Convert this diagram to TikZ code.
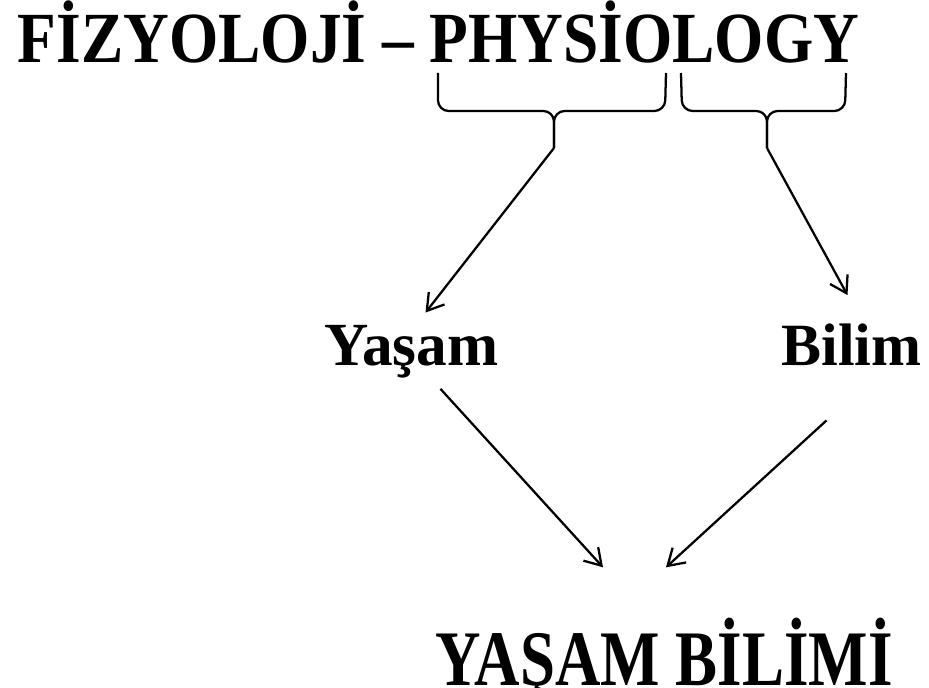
\documentclass[tikz,border=0pt]{standalone}
\usepackage{fontspec}
\setmainfont{Liberation Serif}
\usepackage{graphicx}
\usepackage{tikz}
\usetikzlibrary{arrows.meta,calc,positioning}
\tikzset{word/.style={anchor=base,inner sep=0pt,font=\bfseries},
         arr/.style={line width=1.7pt,-{Straight Barb[length=12pt,width=15pt,line width=1.7pt]}},
         brc/.style={line width=1.7pt,rounded corners=8}}

\begin{document}
\begin{tikzpicture}[x=0.75pt,y=-0.75pt]
            \useasboundingbox (0,0) rectangle (929,688);
            \node[word,font=\bfseries\fontsize{54}{60}\selectfont] (title) at (438.5,63) {\scalebox{0.88}[1]{FİZYOLOJİ – PHYSİOLOGY}};
            \node[word,font=\bfseries\fontsize{46}{50}\selectfont] (yasam) at (411.5,365) {Yaşam};
            \node[word,font=\bfseries\fontsize{45}{50}\selectfont] (bilim) at (851.5,365) {Bilim};
            \node[word,font=\bfseries\fontsize{59}{64}\selectfont] (sonuc) at (664,685) {\scalebox{0.8}[1]{YAŞAM BİLİMİ}};
            % braces under the title
            \coordinate (lbtip) at (554,148);
            \coordinate (rbtip) at (767,148);
            \draw[brc] (438,73) -- (438,111) -- (554,111) -- (lbtip);
            \draw[brc] (666,73) -- (665,111) -- (554,111) -- (lbtip);
            \draw[brc] (681,73) -- (682,111) -- (767,111) -- (rbtip);
            \draw[brc] (846,73) -- (845,111) -- (767,111) -- (rbtip);
            % arrows
            \draw[arr] (lbtip) -- ([shift={(14,-12)}]yasam.north);
            \draw[arr] (rbtip) -- ([shift={(-4,-28)}]bilim.north);
            \draw[arr] ([shift={(29,11)}]yasam.south) -- ([shift={(-61,-50)}]sonuc.north);
            \draw[arr] ([shift={(-25,55)}]bilim.south) -- ([shift={(2,-50)}]sonuc.north);
        \end{tikzpicture}
\end{document}
